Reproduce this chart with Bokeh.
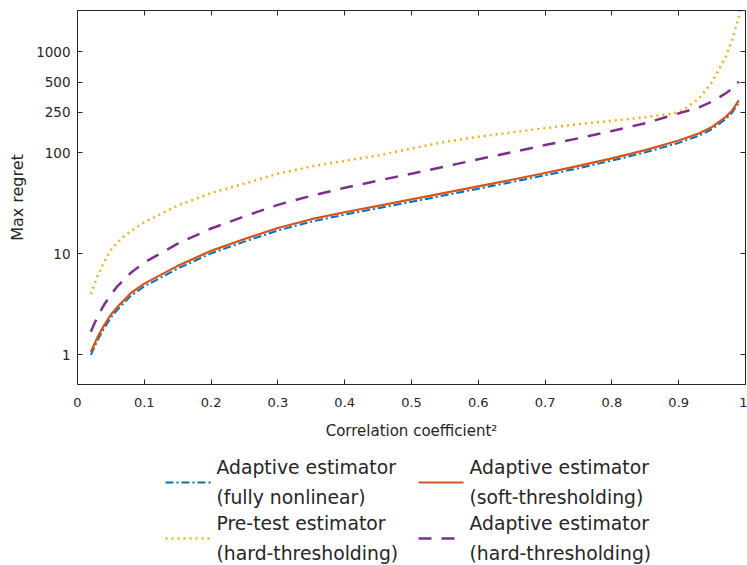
from bokeh.plotting import figure
from bokeh.layouts import column
from bokeh.models import (LogAxis, LinearAxis, FixedTicker, CustomJSTickFormatter, Range1d)
from bokeh.core.properties import value
from bokeh.embed import file_html
from bokeh.resources import INLINE

# ---- data ----
corr_sq = [0.02, 0.03, 0.04, 0.05, 0.06, 0.08, 0.10, 0.15, 0.20, 0.25, 0.30, 0.35,
           0.40, 0.45, 0.50, 0.55, 0.60, 0.65, 0.70, 0.75, 0.80, 0.85, 0.90, 0.93,
           0.95, 0.97, 0.98, 0.99]
fully_nonlinear = [1.0, 1.4, 1.84, 2.34, 2.81, 3.85, 4.77, 7.15, 10.1, 13.2, 17.0, 20.8,
                   24.4, 28.2, 32.7, 37.9, 44.1, 51.2, 59.8, 70.3, 83.6, 100.7, 125, 147,
                   171, 214, 249, 314]
soft_thresholding = [1.07, 1.5, 1.97, 2.5, 3.0, 4.1, 5.07, 7.6, 10.7, 14.0, 18.0, 22.0,
                     25.8, 29.8, 34.5, 40.0, 46.5, 54.0, 63.0, 74.0, 88.0, 106, 132, 155,
                     180, 225, 262, 330]
adaptive_hard = [1.7, 2.4, 3.15, 3.95, 4.8, 6.5, 8.2, 12.6, 17.8, 23.5, 30.5, 37.5,
                 45.0, 53.0, 62.0, 73.0, 86.0, 101, 119, 139, 164, 196, 245, 280,
                 320, 385, 430, 505]
pretest_x = [0.02, 0.03, 0.04, 0.05, 0.06, 0.07, 0.08, 0.10, 0.15, 0.20, 0.25, 0.30,
             0.35, 0.40, 0.45, 0.50, 0.55, 0.60, 0.65, 0.70, 0.75, 0.80, 0.85, 0.89,
             0.90, 0.91, 0.93, 0.95, 0.97, 0.98, 0.99, 0.995]
pretest_hard = [4.0, 6.0, 8.4, 10.9, 13.0, 15.0, 16.8, 20.5, 30.0, 40.0, 49.5, 62.0,
                73.0, 83.0, 94.0, 110, 128, 144, 159, 175, 192, 207, 224, 243,
                252, 275, 340, 500, 880, 1300, 2200, 3200]

x_ticks = [0, 0.1, 0.2, 0.3, 0.4, 0.5, 0.6, 0.7, 0.8, 0.9, 1]
y_ticks = [1, 10, 100, 250, 500, 1000]

# legend, row-major: (first line, second line)
legend_line1 = ["Adaptive estimator", "Adaptive estimator",
                "Pre-test estimator", "Adaptive estimator"]
legend_line2 = ["(fully nonlinear)", "(soft-thresholding)",
                "(hard-thresholding)", "(hard-thresholding)"]

colors = ["#0072BD", "#D95319", "#EDB120", "#7E2F8E"]
dashes = ["8 3 2 3", "solid", "2 4", "13 10"]
widths = [2, 2.2, 2.5, 2.5]

FONT = "DejaVu Sans"
AX = "#262626"
W = 747
BL, BR = 77, 2

p = figure(width=W, height=448, y_axis_type="log",
           x_range=Range1d(0, 1), y_range=Range1d(0.51, 2550),
           output_backend="svg", toolbar_location=None,
           min_border_left=BL, min_border_right=BR, min_border_top=10,
           min_border_bottom=64)
p.grid.visible = False
p.outline_line_color = None

series = [(corr_sq, fully_nonlinear), (corr_sq, soft_thresholding),
          (pretest_x, pretest_hard), (corr_sq, adaptive_hard)]
for (xs, ys), c, d, w in zip(series, colors, dashes, widths):
    p.line(xs, ys, line_color=c, line_width=w, line_dash=d, line_join="round")

fmt = CustomJSTickFormatter(code="return tick.toString();")
xt = FixedTicker(ticks=x_ticks, minor_ticks=[])
yt = FixedTicker(ticks=y_ticks, minor_ticks=[])


def style_axis(ax, show_labels=True):
    ax.axis_line_color = AX
    ax.axis_line_width = 1
    ax.major_tick_line_color = AX
    ax.major_tick_in = 5
    ax.major_tick_out = 0
    ax.minor_tick_in = 0
    ax.minor_tick_out = 0
    ax.major_label_text_font = FONT
    ax.major_label_text_color = AX
    ax.axis_label_text_font = FONT
    ax.axis_label_text_color = AX
    ax.axis_label_text_font_style = "normal"
    if not show_labels:
        ax.major_label_text_color = None
        ax.major_label_text_font_size = "1px"
        ax.major_label_standoff = 0


xa = p.xaxis[0]
xa.ticker = xt
xa.formatter = fmt
style_axis(xa)
xa.major_label_text_font_size = "13px"
xa.major_label_standoff = 13
xa.axis_label = "Correlation coefficient²"
xa.axis_label_text_font_size = "15px"
xa.axis_label_standoff = 12

ya = p.yaxis[0]
ya.ticker = yt
ya.formatter = fmt
style_axis(ya)
ya.major_label_text_font_size = "13.5px"
ya.major_label_standoff = 7
ya.axis_label = "Max regret"
ya.axis_label_text_font_size = "16px"
ya.axis_label_standoff = 6

top = LinearAxis(ticker=xt, formatter=fmt)
style_axis(top, False)
p.add_layout(top, "above")
right = LogAxis(ticker=yt, formatter=fmt)
style_axis(right, False)
p.add_layout(right, "right")

# ---- legend panel (layout in page pixels) ----
LH = 117
lg = figure(width=W, height=LH, x_range=Range1d(BL, W - BR), y_range=Range1d(0, LH),
            output_backend="svg", toolbar_location=None,
            x_axis_location=None, y_axis_location=None,
            min_border_left=BL, min_border_right=BR, min_border_top=0, min_border_bottom=0)
lg.grid.visible = False
lg.outline_line_color = None

col_glyph_x = [165, 418]
glyph_len = 45
text_dx = 51
row_glyph_y = [83, 27]
line_gap = 15

for i in range(4):
    r, c = divmod(i, 2)
    gx = col_glyph_x[c]
    gy = row_glyph_y[r]
    lg.line([gx, gx + glyph_len], [gy, gy], line_color=colors[i], line_width=widths[i],
            line_dash=dashes[i])
    lg.text(x=[gx + text_dx, gx + text_dx], y=[gy + line_gap, gy - line_gap],
            text=[legend_line1[i], legend_line2[i]],
            text_font=value(FONT), text_font_size="18.8px", text_color=AX,
            text_align="left", text_baseline="middle")

layout = column(p, lg, spacing=0)
open("out.html", "w").write(file_html(layout, INLINE))
